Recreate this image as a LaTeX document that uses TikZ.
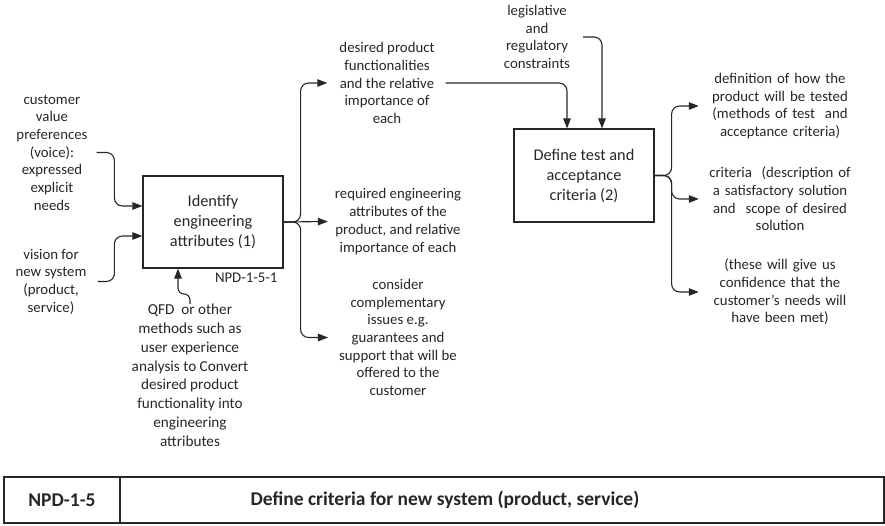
\documentclass[tikz,border=0pt]{standalone}
\usepackage{fontspec}
\setmainfont{Carlito}
\usetikzlibrary{arrows.meta}

\begin{document}
\begin{tikzpicture}[x=1pt,y=-1pt,
    every node/.style={text=black!85},
    proc/.style={draw=black!85,line width=1.2pt,minimum width=140pt,minimum height=92pt,
      align=center,font=\fontsize{16.3}{20}\selectfont},
    note/.style={align=center,inner sep=0pt,font=\fontsize{14.8}{17.7}\selectfont},
    rnote/.style={note,text width=146pt},
    flow/.style={draw=black!85,line width=1.1pt,rounded corners=8pt,
      -{Triangle[length=10pt,width=7.5pt]}},
    title/.style={inner sep=0pt,font=\bfseries\fontsize{19.5}{22}\selectfont}]
  \useasboundingbox (0,0) rectangle (885,525);

  % the two process boxes
  \node[proc] (identify) at (213,222) {Identify\\engineering\\attributes (1)};
  \node[proc,minimum height=93pt] (define) at (584,175.5) {Define test and\\acceptance\\criteria (2)};
  \node[note,anchor=north east] (npdid) at ([xshift=-6pt,yshift=-4pt]identify.south east) {NPD-1-5-1};

  % inputs of box 1
  \node[note] (voice) at (52,152.5) {customer\\value\\preferences\\(voice):\\expressed\\explicit\\needs};
  \node[note] (vision) at (51,281.5) {vision for\\new system\\(product,\\service)};
  \node[note,anchor=north,font=\fontsize{15.2}{18.8}\selectfont] (qfd) at (190,304)
    {QFD\ \ or other\\methods such as\\user experience\\analysis to Convert\\desired product\\functionality into\\engineering\\attributes};

  % outputs of box 1
  \node[note] (func) at (387,83) {desired product\\functionalities\\and the relative\\importance of\\each};
  \node[note] (reqattr) at (398,221.5) {required engineering\\attributes of the\\product, and relative\\importance of each};
  \node[note] (compl) at (398,337.5) {consider\\complementary\\issues e.g.\\guarantees and\\support that will be\\offered to the\\customer};

  % box 2
  \node[note] (legis) at (537,37) {legislative\\and\\regulatory\\constraints};
  \node[rnote] (testdef) at (780,106) {definition of how the\\product will be tested\\(methods of test\ \ and\\acceptance criteria)};
  \node[rnote] (crit) at (780,199) {criteria\ \ (description of\\a satisfactory solution\\and\ \ scope of desired\\solution};
  \node[rnote] (confid) at (780,292) {(these will give us\\confidence that the\\customer's needs will\\have been met)};

  \draw[flow] ([xshift=9pt]voice.east) -| ([xshift=-28pt,yshift=16pt]identify.west) -- ([yshift=16pt]identify.west);
  \draw[flow] ([xshift=11pt]vision.east) -| ([xshift=-28pt,yshift=-14pt]identify.west) -- ([yshift=-14pt]identify.west);
  \draw[flow,rounded corners=6pt] (qfd.north) -- ++(0,-10) -| ([xshift=-35pt]identify.south);

  \draw[flow] (identify.east) -- ++(17,0) |- ([xshift=-12pt]func.west);
  \draw[flow] (identify.east) -- ([xshift=-7pt]reqattr.west);
  \draw[flow] (identify.east) -- ++(17,0) |- ([xshift=-11pt]compl.west);

  \draw[flow] ([xshift=11pt]func.east) -| ([xshift=-17pt]define.north);
  \draw[flow] ([xshift=13pt]legis.east) -| ([xshift=18pt]define.north);

  \draw[flow] (define.east) -- ++(17,0) |- ([xshift=-8pt]testdef.west);
  \draw[flow] (define.east) -- ++(17,0) |- ([xshift=-8pt]crit.west);
  \draw[flow] (define.east) -- ++(17,0) |- ([xshift=-8pt]confid.west);

  % title strip
  \draw[black!85,line width=1.2pt] (4,477) rectangle (884,523);
  \draw[black!85,line width=1.2pt] (120,477) -- (120,523);
  \node[title] (code) at (62,500) {NPD-1-5};
  \node[title] (name) at (445,500) {Define criteria for new system (product, service)};
\end{tikzpicture}
\end{document}
